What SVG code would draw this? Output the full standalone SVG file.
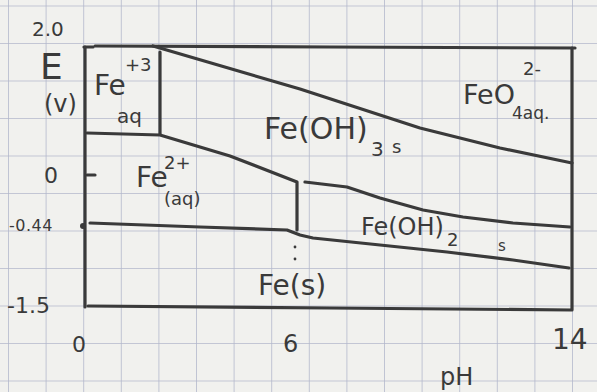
<svg xmlns="http://www.w3.org/2000/svg" width="597" height="392" viewBox="0 0 597 392">
<defs>
<pattern id="grid" x="8" y="5.5" width="37.6" height="37.5" patternUnits="userSpaceOnUse">
<path d="M0 0 H37.6 M0 0 V37.5" fill="none" stroke="#b3b8cc" stroke-width="1.6"/>
</pattern>
<style>
.ink{fill:none;stroke:#3a3a3a;stroke-width:3.2;stroke-linecap:round;stroke-linejoin:round}
.t{font-family:"DejaVu Sans","Liberation Sans",sans-serif;fill:#3a3a3a}
</style>
</defs>
<rect width="597" height="392" fill="#f1f1ee"/>
<rect width="597" height="392" fill="url(#grid)"/>
<g id="axes">
<path class="ink" d="M85 47 V307"/>
<path class="ink" d="M84 47 H93"/>
<path class="ink" d="M87 175 H95"/>
<circle cx="83" cy="226" r="3" fill="#3a3a3a"/>
<path class="ink" d="M88 306 L330 308 L572 310 V48"/>
<path class="ink" d="M95 46 L330 47 L575 48"/>
</g>
<g id="connectors">
<path class="ink" d="M160 52 V134"/>
<path class="ink" d="M87 133 L160 135 L230 156 L297 182 V230"/>
<path class="ink" d="M153 46 L300 89 L420 128 L500 148 L572 163"/>
<path class="ink" d="M305 182 L347 187 L380 198 L423 210 L463 217 L513 223 L570 227"/>
<path class="ink" d="M90 223 L200 227 L287 230 L300 235 L313 238 L380 245 L447 252 L513 260 L569 268"/>
<circle cx="295" cy="247" r="1.4" fill="#3a3a3a"/>
<circle cx="295" cy="259" r="1.4" fill="#3a3a3a"/>
</g>
<g id="axis-labels" class="t">
<text x="32" y="36" font-size="20">2.0</text>
<text x="40" y="79" font-size="36">E</text>
<text x="44" y="112" font-size="24">(v)</text>
<text x="44" y="183" font-size="22">0</text>
<text x="9" y="231" font-size="16" letter-spacing="0.5">-0.44</text>
<text x="7" y="313" font-size="22">-1.5</text>
<text x="72" y="352" font-size="22">0</text>
<text x="283" y="352" font-size="24">6</text>
<text x="552" y="349" font-size="28">14</text>
<text x="440" y="385" font-size="24">pH</text>
</g>
<g id="fe3" class="t">
<text x="94" y="95" font-size="28">Fe</text>
<text x="125" y="71" font-size="18">+3</text>
<text x="117" y="123" font-size="20">aq</text>
</g>
<g id="fe2" class="t">
<text x="136" y="187" font-size="28">Fe</text>
<text x="164" y="169" font-size="18">2+</text>
<text x="164" y="205" font-size="18">(aq)</text>
</g>
<g id="feoh3" class="t">
<text x="264" y="139" font-size="30">Fe(OH)</text>
<text x="371" y="156" font-size="20">3</text>
<text x="392" y="153" font-size="18">s</text>
</g>
<g id="feo4" class="t">
<text x="463" y="104" font-size="27">FeO</text>
<text x="523" y="75" font-size="18">2-</text>
<text x="512" y="119" font-size="17">4aq.</text>
</g>
<g id="feoh2" class="t">
<text x="361" y="235" font-size="24">Fe(OH)</text>
<text x="447" y="246" font-size="18">2</text>
<text x="498" y="251" font-size="15">s</text>
</g>
<g id="fe" class="t">
<text x="258" y="295" font-size="28">Fe(s)</text>
</g>
</svg>
